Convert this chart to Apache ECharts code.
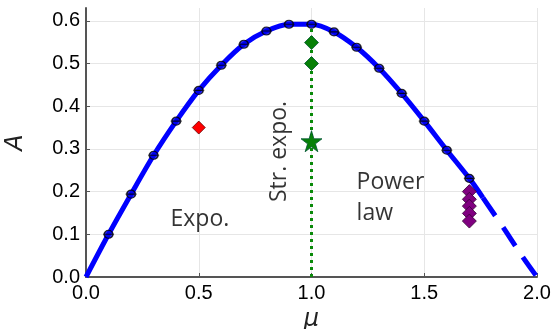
<!DOCTYPE html>
<html>
<head>
<meta charset="utf-8">
<script src="https://cdn.jsdelivr.net/npm/echarts@6/dist/echarts.min.js"></script>
<style>
html,body{margin:0;padding:0;background:#fff;}
#c{width:554px;height:329px;}
</style>
</head>
<body>
<div id="c"></div>
<script>
// ---- data ----
const muPoints = [0.1,0.2,0.3,0.4,0.5,0.6,0.7,0.8,0.9,1.0,1.1,1.2,1.3,1.4,1.5,1.6,1.7];
const aPoints  = [0.100,0.194,0.285,0.365,0.437,0.496,0.545,0.576,0.592,0.592,0.574,0.538,0.489,0.430,0.365,0.297,0.231];
const curveHeadMu = [0.0];
const curveHeadA  = [0.0];
const curveTailMu = [1.76];
const curveTailA  = [0.186];
const dashedMu = [1.76,1.85,1.93,2.0];
const dashedA  = [0.186,0.116,0.052,0.0];
const expoMu = [0.5];
const expoA  = [0.35];
const strMu = [1.0,1.0];
const strA  = [0.549,0.500];
const starMu = [1.0];
const starA  = [0.318];
const strLineMu = [1.0,1.0];
const strLineA  = [0.0,0.585];
const powMu = [1.7,1.7,1.7,1.7,1.7];
const powA  = [0.200,0.182,0.166,0.149,0.131];
const annotMu = [0.505,0.856,1.2];
const annotA  = [0.135,0.294,0.186];
const annotText = ['Expo.','Str. expo.','Power\nlaw'];
const xTicks = [0.0,0.5,1.0,1.5,2.0];
const yTicks = [0.0,0.1,0.2,0.3,0.4,0.5,0.6];

const zip = (xs, ys) => xs.map((x,i)=>[x, ys[i]]);
const solid = zip(curveHeadMu,curveHeadA).concat(zip(muPoints,aPoints)).concat(zip(curveTailMu,curveTailA));

const markerPath = 'path://M1,4 A4,4 0 1,1 9,4 A4,4 0 1,1 1,4 Z M0,4 L10,4';
const starPath = 'path://M50,0 L61,35 L98,35 L68,57 L79,91 L50,70 L21,91 L32,57 L2,35 L39,35 Z';

const chart = echarts.init(document.getElementById('c'), null, {renderer:'canvas'});
const labelFont = {fontFamily:'Liberation Sans', fontSize:20, color:'#000'};
chart.setOption({
  animation:false,
  backgroundColor:'#fff',
  grid:{left:86, right:17, top:8, bottom:52, containLabel:false, outerBoundsMode:'none'},
  xAxis:{
    type:'value', min:0, max:2.0, interval:0.5,
    name:'μ', nameLocation:'middle', nameGap:16,
    nameTextStyle:{fontFamily:'DejaVu Sans', fontStyle:'italic', fontSize:24, color:'#222'},
    axisLine:{show:true, onZero:false, lineStyle:{color:'#555', width:2}},
    axisTick:{show:true, inside:true, length:4, lineStyle:{color:'#555'}},
    axisLabel:Object.assign({margin:6, formatter:v=>xTicks.includes(+v.toFixed(2))?v.toFixed(1):''}, labelFont),
    splitLine:{show:true, showMinLine:false, lineStyle:{color:'#e6e6e6', width:1}}
  },
  yAxis:{
    type:'value', min:0, max:0.63, interval:0.1,
    name:'A', nameLocation:'middle', nameGap:58, nameRotate:90,
    nameTextStyle:{fontFamily:'DejaVu Sans', fontStyle:'italic', fontSize:24, color:'#222'},
    axisLine:{show:true, onZero:false, lineStyle:{color:'#555', width:2}},
    axisTick:{show:true, inside:true, length:4, lineStyle:{color:'#555'}},
    axisLabel:Object.assign({margin:6, showMaxLabel:false, formatter:v=>yTicks.includes(+v.toFixed(2))?v.toFixed(1):''}, labelFont),
    splitLine:{show:true, showMinLine:false, showMaxLine:false, lineStyle:{color:'#e6e6e6', width:1}}
  },
  series:[
    {type:'line', data:solid, smooth:0.3, showSymbol:false, symbol:'none',
     lineStyle:{color:'#0000ff', width:5}, z:2},
    {type:'line', data:zip(dashedMu,dashedA), smooth:0.3, showSymbol:false, symbol:'none',
     lineStyle:{color:'#0000ff', width:5, type:[22,14], cap:'butt'}, z:2},
    {type:'line', data:zip(strLineMu,strLineA), showSymbol:false, symbol:'none',
     lineStyle:{color:'#0a8a0a', width:3, type:[3,4]}, z:2},
    {type:'scatter', data:zip(muPoints,aPoints), symbol:markerPath, symbolSize:[11,8],
     itemStyle:{color:'#0000ee', borderColor:'#000', borderWidth:1.3}, z:4},
    {type:'scatter', data:zip(expoMu,expoA), symbol:'diamond', symbolSize:13,
     itemStyle:{color:'#ff0000', borderColor:'#600', borderWidth:0.8, opacity:1}, z:4},
    {type:'scatter', data:zip(strMu,strA), symbol:'diamond', symbolSize:14,
     itemStyle:{color:'#078007', borderColor:'#053', borderWidth:0.8, opacity:1}, z:4},
    {type:'scatter', data:zip(starMu,starA), symbol:starPath, symbolSize:21,
     itemStyle:{color:'#078007', borderColor:'#053', borderWidth:0.8, opacity:1}, z:4},
    {type:'scatter', data:zip(powMu,powA), symbol:'diamond', symbolSize:14,
     itemStyle:{color:'#800080', borderColor:'#303', borderWidth:0.8, opacity:1}, z:3},
    {type:'scatter', symbolSize:0, silent:true, z:5,
     data:annotMu.map((m,i)=>({
       value:[m, annotA[i]],
       label:{show:true, position:'inside', formatter:annotText[i],
              rotate: i===1 ? 90 : 0,
              align: i===2 ? 'left' : 'center', verticalAlign:'middle',
              fontFamily:'Open Sans', fontSize:23, lineHeight:31, color:'#000'}
     }))}
  ]
});
</script>
</body>
</html>
